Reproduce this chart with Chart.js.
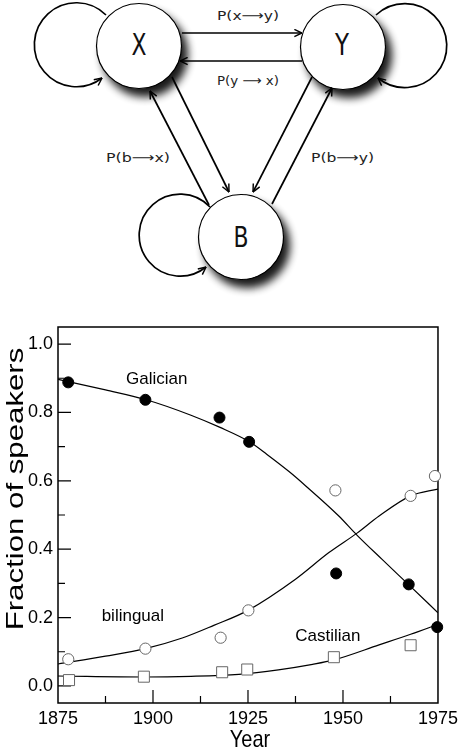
<!DOCTYPE html>
<html>
<head>
<meta charset="utf-8">
<script src="https://cdn.jsdelivr.net/npm/chart.js@4.4.0/dist/chart.umd.min.js"></script>
<style>
  html, body { margin: 0; padding: 0; background: #fff; }
  svg, canvas { display: block; }
  #wrap { width: 463px; height: 450px; }
</style>
</head>
<body>
<svg width="463" height="300" viewBox="0 0 463 300">
  <defs>
    <filter id="shadow" x="-40%" y="-40%" width="190%" height="190%">
      <feGaussianBlur in="SourceAlpha" stdDeviation="4"/>
      <feOffset dx="6" dy="8" result="off"/>
      <feComponentTransfer><feFuncA type="linear" slope="0.9"/></feComponentTransfer>
      <feMerge><feMergeNode/><feMergeNode in="SourceGraphic"/></feMerge>
    </filter>
    <marker id="head" viewBox="0 0 10 10" refX="9.5" refY="5" markerWidth="9" markerHeight="9"
            markerUnits="userSpaceOnUse" orient="auto">
      <path d="M1,1 L9.5,5 L1,9" fill="none" stroke="#000" stroke-width="1.6"/>
    </marker>
  </defs>

  <!-- nodes -->
  <g fill="#fff" stroke="#000" stroke-width="1.2" filter="url(#shadow)">
    <circle cx="139" cy="46" r="42.5"/>
    <circle cx="343" cy="47" r="42.5"/>
    <circle cx="241" cy="237" r="42.5"/>
  </g>

  <!-- self loops and transitions -->
  <g fill="none" stroke="#000" stroke-width="1.7" marker-end="url(#head)">
    <path d="M106,15 A42,42 0 1 0 102,78"/>
    <path d="M376,15 A42,42 0 1 1 378,78"/>
    <path d="M210,207 A41,41 0 1 0 206,267"/>
    <path d="M182,33 L302,33"/>
    <path d="M302,61 L180,61"/>
    <path d="M172,77 L229,192"/>
    <path d="M209,205 L150,91"/>
    <path d="M312,77 L253,192"/>
    <path d="M272,204 L332,88"/>
  </g>

  <g font-family="'DejaVu Sans', sans-serif" fill="#111" text-anchor="middle">
    <text x="139" y="55" font-size="30" textLength="15" lengthAdjust="spacingAndGlyphs">X</text>
    <text x="342" y="55" font-size="30" textLength="14" lengthAdjust="spacingAndGlyphs">Y</text>
    <text x="241" y="247" font-size="29" textLength="15" lengthAdjust="spacingAndGlyphs">B</text>
  </g>
  <g font-family="'DejaVu Sans', sans-serif" fill="#222" text-anchor="middle" font-size="13">
    <text x="248" y="19.5" textLength="62" lengthAdjust="spacingAndGlyphs">P(x⟶y)</text>
    <text x="248" y="85" textLength="62" lengthAdjust="spacingAndGlyphs">P(y ⟶ x)</text>
    <text x="138" y="162" textLength="64" lengthAdjust="spacingAndGlyphs">P(b⟶x)</text>
    <text x="342.5" y="162" textLength="63" lengthAdjust="spacingAndGlyphs">P(b⟶y)</text>
  </g>
</svg>
<div id="wrap"><canvas id="speakersChart" width="463" height="450"></canvas></div>
<script>
// observed fractions (survey points)
const galicianYears = [1877.7, 1898, 1917.5, 1925.3, 1948.2, 1967.3, 1974.8];
const galicianShare = [0.888, 0.837, 0.785, 0.714, 0.329, 0.297, 0.172];
const bilingualYears = [1877.7, 1898, 1917.8, 1925.1, 1948, 1967.8, 1974.2];
const bilingualShare = [0.078, 0.109, 0.141, 0.221, 0.572, 0.556, 0.614];
const castilianYears = [1877.9, 1897.6, 1918.2, 1924.8, 1947.6, 1967.8];
const castilianShare = [0.017, 0.027, 0.040, 0.048, 0.084, 0.119];

// model curves
const galicianFitYears = [1875, 1887.5, 1898, 1910, 1917.5, 1925.4, 1930, 1935.8, 1940.2, 1948.9, 1953.6, 1960.3, 1967.2, 1975];
const galicianFit = [0.897, 0.866, 0.838, 0.792, 0.757, 0.714, 0.677, 0.627, 0.585, 0.497, 0.442, 0.37, 0.297, 0.214];
const bilingualFitYears = [1875, 1887.5, 1898, 1907.7, 1916, 1925, 1937.5, 1946.3, 1953.7, 1959.5, 1967.8, 1975];
const bilingualFit = [0.064, 0.087, 0.109, 0.140, 0.177, 0.221, 0.312, 0.39, 0.447, 0.497, 0.556, 0.576];
const castilianFitYears = [1875, 1897.6, 1910, 1922.6, 1933, 1942, 1947.6, 1959.5, 1967.8, 1975];
const castilianFit = [0.029, 0.026, 0.028, 0.034, 0.047, 0.063, 0.076, 0.12, 0.151, 0.180];

// axis ticks
const yearTicks = [1875, 1900, 1925, 1950, 1975];
const yearMinor = [1887.5, 1912.5, 1937.5, 1962.5];
const shareTicks = [0, 0.2, 0.4, 0.6, 0.8, 1.0];
const shareMinor = [0.1, 0.3, 0.5, 0.7, 0.9];

const seriesNames = ['Galician', 'bilingual', 'Castilian'];

const pts = (xs, ys) => xs.map((x, i) => ({ x: x, y: ys[i] }));

// box with inward ticks, series names and axis titles
const framePlugin = {
    id: 'frame',
    beforeDatasetsDraw(chart) {
        const { ctx, chartArea: a, scales: { x, y } } = chart;
        ctx.save();
        ctx.strokeStyle = '#000';
        ctx.lineWidth = 1.5;
        ctx.strokeRect(a.left, a.top, a.right - a.left, a.bottom - a.top);
        ctx.lineWidth = 1.2;
        ctx.beginPath();
        yearTicks.slice(1, -1).forEach(v => {
            const px = x.getPixelForValue(v);
            ctx.moveTo(px, a.bottom); ctx.lineTo(px, a.bottom - 13);
        });
        yearMinor.forEach(v => {
            const px = x.getPixelForValue(v);
            ctx.moveTo(px, a.bottom); ctx.lineTo(px, a.bottom - 7);
        });
        shareTicks.forEach(v => {
            const py = y.getPixelForValue(v);
            ctx.moveTo(a.left, py); ctx.lineTo(a.left + 13, py);
        });
        shareMinor.forEach(v => {
            const py = y.getPixelForValue(v);
            ctx.moveTo(a.left, py); ctx.lineTo(a.left + 7, py);
        });
        ctx.stroke();
        ctx.restore();
    },
    afterDraw(chart) {
        const { ctx, chartArea: a, scales: { x, y } } = chart;
        ctx.save();
        ctx.fillStyle = '#000';
        ctx.textAlign = 'center';
        ctx.textBaseline = 'middle';
        ctx.font = '17px "Liberation Sans", Arial, sans-serif';
        const spots = [[1901, 0.898], [1894.7, 0.205], [1946, 0.144]];
        seriesNames.forEach((name, i) => {
            ctx.fillText(name, x.getPixelForValue(spots[i][0]), y.getPixelForValue(spots[i][1]));
        });

        // y title, stretched like the original
        ctx.font = '24px "Liberation Sans", Arial, sans-serif';
        ctx.textBaseline = 'alphabetic';
        ctx.save();
        ctx.translate(23, a.top + 162);
        ctx.rotate(-Math.PI / 2);
        ctx.scale(1.3, 1);
        ctx.fillText('Fraction of speakers', 0, 0);
        ctx.restore();

        // x title
        ctx.font = '20px "Liberation Sans", Arial, sans-serif';
        ctx.save();
        ctx.translate((a.left + a.right) / 2 + 2, chart.height - 3);
        ctx.scale(1, 1.2);
        ctx.fillText('Year', 0, 0);
        ctx.restore();
        ctx.restore();
    }
};

Chart.defaults.font.family = '"Liberation Sans", Arial, sans-serif';
Chart.defaults.color = '#000';

const ctx = document.getElementById('speakersChart').getContext('2d');
new Chart(ctx, {
    type: 'scatter',
    data: {
        datasets: [
            {
                label: 'Galician',
                data: pts(galicianYears, galicianShare),
                pointRadius: 5.5,
                backgroundColor: '#000',
                borderColor: '#000',
                borderWidth: 1,
                clip: false
            },
            {
                label: 'bilingual',
                data: pts(bilingualYears, bilingualShare),
                pointRadius: 5.6,
                backgroundColor: '#fff',
                borderColor: '#666',
                borderWidth: 1,
                clip: false
            },
            {
                label: 'Castilian',
                data: pts(castilianYears, castilianShare),
                pointStyle: 'rect',
                pointRadius: 7.8,
                backgroundColor: '#fff',
                borderColor: '#666',
                borderWidth: 1,
                clip: false
            },
            {
                label: 'Galician model',
                data: pts(galicianFitYears, galicianFit),
                showLine: true,
                cubicInterpolationMode: 'monotone',
                pointRadius: 0,
                borderColor: '#000',
                borderWidth: 1.2
            },
            {
                label: 'bilingual model',
                data: pts(bilingualFitYears, bilingualFit),
                showLine: true,
                cubicInterpolationMode: 'monotone',
                pointRadius: 0,
                borderColor: '#000',
                borderWidth: 1.2
            },
            {
                label: 'Castilian model',
                data: pts(castilianFitYears, castilianFit),
                showLine: true,
                cubicInterpolationMode: 'monotone',
                pointRadius: 0,
                borderColor: '#000',
                borderWidth: 1.2
            }
        ]
    },
    options: {
        responsive: false,
        animation: false,
        events: [],
        layout: { padding: { top: 27, right: 23, left: 0, bottom: 0 } },
        plugins: {
            legend: { display: false },
            tooltip: { enabled: false }
        },
        scales: {
            x: {
                type: 'linear',
                min: 1875,
                max: 1975,
                afterBuildTicks: scale => { scale.ticks = yearTicks.map(v => ({ value: v })); },
                afterFit: scale => { scale.height = 47; },
                ticks: {
                    font: { size: 18 },
                    color: '#000',
                    padding: 5,
                    maxRotation: 0,
                    callback: v => String(v)
                },
                grid: { display: false, drawTicks: false },
                border: { display: false }
            },
            y: {
                type: 'linear',
                min: -0.05,
                max: 1.05,
                afterBuildTicks: scale => { scale.ticks = shareTicks.map(v => ({ value: v })); },
                afterFit: scale => { scale.width = 58; },
                ticks: {
                    font: { size: 18 },
                    color: '#000',
                    padding: 5,
                    callback: v => v.toFixed(1)
                },
                grid: { display: false, drawTicks: false },
                border: { display: false }
            }
        }
    },
    plugins: [framePlugin]
});
</script>
</body>
</html>
